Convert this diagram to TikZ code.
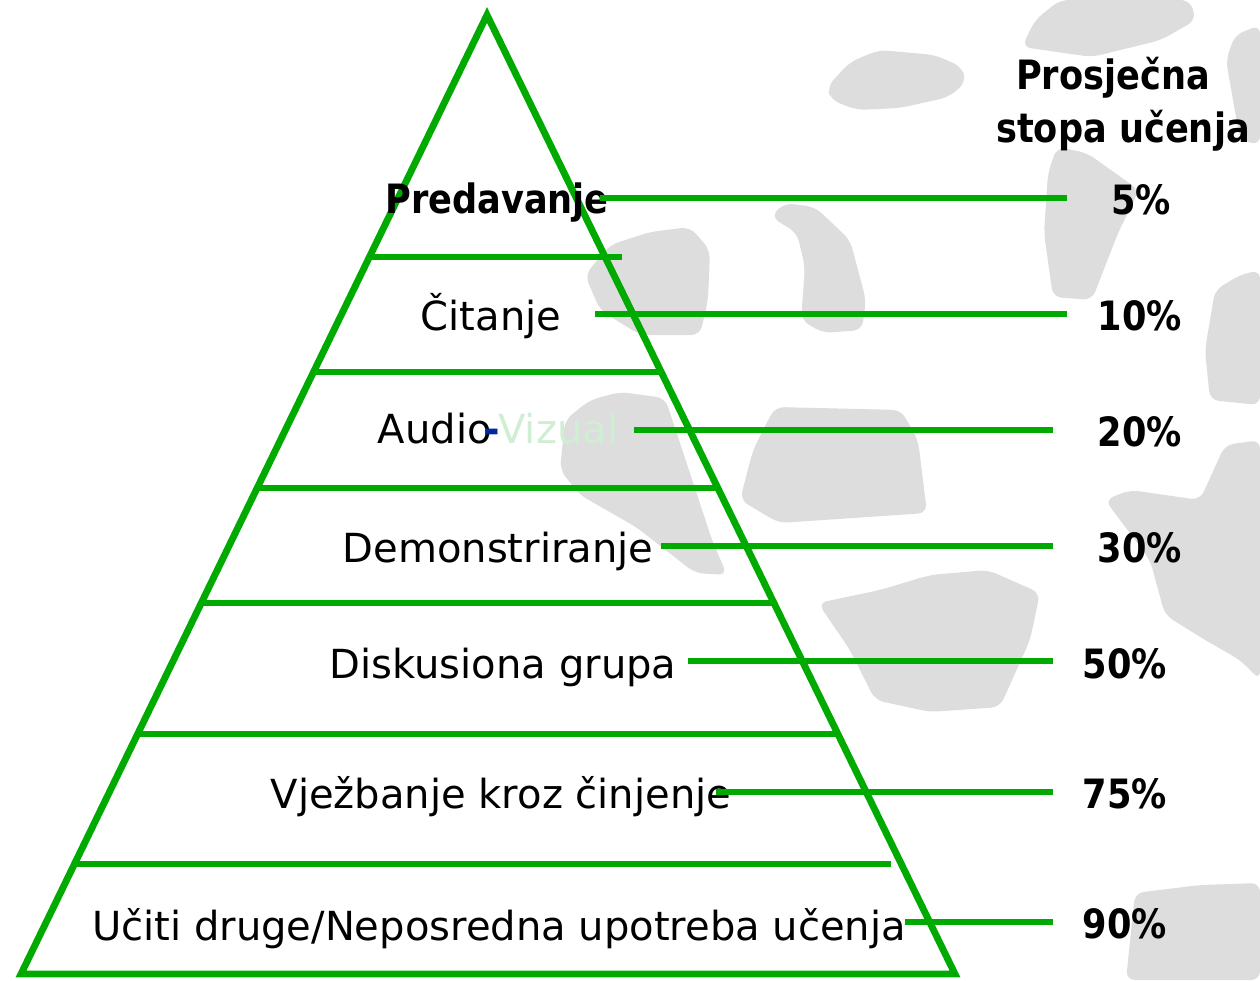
\documentclass[tikz,border=0pt]{standalone}
\usepackage{fontspec}
\setmainfont{DejaVu Sans}
\definecolor{pgreen}{RGB}{0,170,0}
\definecolor{blob}{RGB}{221,221,221}
\definecolor{vizgreen}{RGB}{208,238,212}
\definecolor{dashblue}{RGB}{0,40,160}
\newcommand{\narrow}[1]{\scalebox{0.87}[1]{#1}}
\begin{document}
\begin{tikzpicture}[x=0.02cm,y=-0.02cm,
  blobshape/.style={fill=blob, draw=none, rounded corners=5pt},
  pyr/.style={draw=pgreen, line width=3.9pt},
  leader/.style={draw=pgreen, line width=3.9pt},
  lbl/.style={anchor=base, inner sep=0pt, font=\fontsize{22.8}{27}\selectfont},
  lblb/.style={anchor=base, inner sep=0pt, font=\fontsize{23}{27}\selectfont\bfseries},
  pct/.style={anchor=base, inner sep=0pt, font=\fontsize{23}{27}\selectfont\bfseries}]
\useasboundingbox (0,0) rectangle (1260,980);
\fill[white] (0,0) rectangle (1260,980);
% background blobs
\fill[blobshape] (827,87) -- (850,62) -- (879,50) -- (935,55) -- (962,67) -- (966,82) -- (949,97) -- (900,108) -- (857,110) -- (831,100) -- cycle;
\fill[blobshape] (1035,20) -- (1060,0) -- (1190,0) -- (1196,20) -- (1161,40) -- (1092,57) -- (1022,47) -- cycle;
\fill[blobshape] (1226,60) -- (1235,35) -- (1260,25) -- (1260,145) -- (1240,140) -- cycle;
\fill[blobshape] (1048,173) -- (1057,147) -- (1087,153) -- (1139,190) -- (1118,233) -- (1092,300) -- (1053,297) -- (1044,233) -- cycle;
\fill[blobshape] (771,217) -- (784,203) -- (815,207) -- (850,240) -- (866,300) -- (862,330) -- (823,333) -- (801,320) -- (805,267) -- (797,233) -- cycle;
\fill[blobshape] (585,275) -- (610,245) -- (650,232) -- (690,227) -- (710,250) -- (708,300) -- (700,335) -- (640,335) -- (600,310) -- cycle;
\fill[blobshape] (1205,350) -- (1215,290) -- (1240,275) -- (1260,270) -- (1260,405) -- (1210,400) -- cycle;
\fill[blobshape] (565,420) -- (590,400) -- (620,392) -- (665,398) -- (684,455) -- (712,540) -- (727,575) -- (695,573) -- (636,527) -- (580,495) -- (560,470) -- cycle;
\fill[blobshape] (753,450) -- (775,407) -- (901,410) -- (918,440) -- (927,513) -- (779,523) -- (740,500) -- cycle;
\fill[blobshape] (1105,500) -- (1130,490) -- (1200,500) -- (1225,445) -- (1260,440) -- (1260,680) -- (1240,660) -- (1205,640) -- (1165,615) -- (1150,560) -- (1120,520) -- cycle;
\fill[blobshape] (818,603) -- (880,590) -- (930,575) -- (988,570) -- (1040,593) -- (1030,640) -- (1000,707) -- (930,712) -- (875,700) -- (850,650) -- cycle;
\fill[blobshape] (1135,893) -- (1200,885) -- (1260,883) -- (1260,980) -- (1126,980) -- cycle;
% pyramid
\coordinate (apex) at (487,15);
\coordinate (bl) at (21,974);
\coordinate (br) at (955,974);
\draw[pyr, line join=miter] (apex) -- (bl) -- (br) -- cycle;
\draw[pyr] (368,257) -- (622,257);
\draw[pyr] (312,372) -- (662,372);
\draw[pyr] (257,488) -- (716,488);
\draw[pyr] (202,603) -- (772,603);
\draw[pyr] (137,734) -- (838,734);
\draw[pyr] (74,864) -- (891,864);
% labels
\node[lblb] (t1) at (497,213) {\narrow{Predavanje}};
\node[lbl] (t2) at (491,330) {Čitanje};
\node[lbl] (t3) at (498,443) {Audio{\color{dashblue}\kern-0.2em\textbf{-}\kern-0.05em}{\color{vizgreen}Vizual}};
\node[lbl] (t4) at (498,562) {Demonstriranje};
\node[lbl] (t5) at (503,678) {Diskusiona grupa};
\node[lbl] (t6) at (501,808) {Vježbanje kroz činjenje};
\node[lbl] (t7) at (499,940) {Učiti druge/Neposredna upotreba učenja};
% header
\node[pct] (h1) at (1113,90) {\narrow{Prosječna}};
\node[pct] (h2) at (1123,142) {\narrow{stopa učenja}};
% percentages
\node[pct] (p1) at (1141,214) {\narrow{5\%}};
\node[pct] (p2) at (1140,330) {\narrow{10\%}};
\node[pct] (p3) at (1140,446) {\narrow{20\%}};
\node[pct] (p4) at (1140,562) {\narrow{30\%}};
\node[pct] (p5) at (1125,678) {\narrow{50\%}};
\node[pct] (p6) at (1125,808) {\narrow{75\%}};
\node[pct] (p7) at (1125,938) {\narrow{90\%}};
% leaders
\coordinate (s1) at (600,198); \coordinate (e1) at (1067,198);
\coordinate (s2) at (595,314); \coordinate (e2) at (1067,314);
\coordinate (s3) at (634,430); \coordinate (e3) at (1053,430);
\coordinate (s4) at (661,546); \coordinate (e4) at (1053,546);
\coordinate (s5) at (688,661); \coordinate (e5) at (1053,661);
\coordinate (s6) at (716,792); \coordinate (e6) at (1053,792);
\coordinate (s7) at (905,922); \coordinate (e7) at (1053,922);
\draw[leader] (s1) -- (e1);
\draw[leader] (s2) -- (e2);
\draw[leader] (s3) -- (e3);
\draw[leader] (s4) -- (e4);
\draw[leader] (s5) -- (e5);
\draw[leader] (s6) -- (e6);
\draw[leader] (s7) -- (e7);
\end{tikzpicture}
\end{document}
